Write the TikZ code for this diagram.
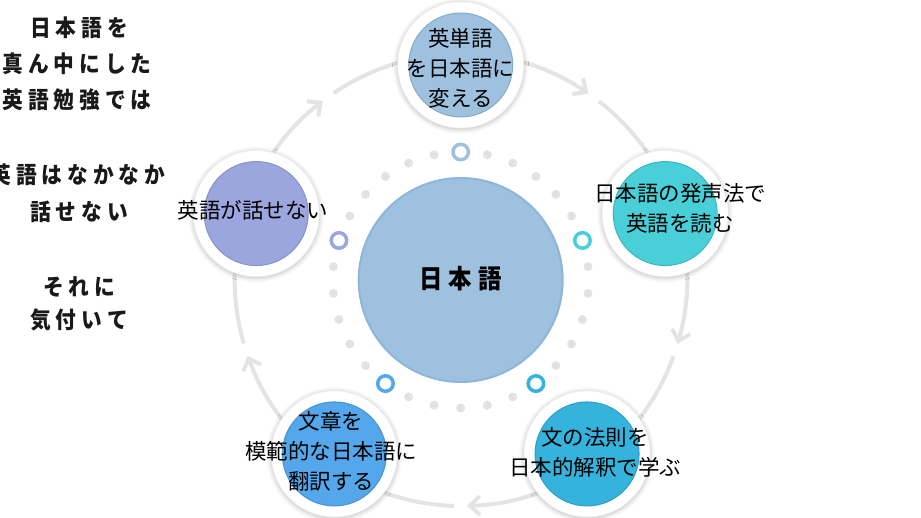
\documentclass[tikz,border=0pt]{standalone}
\usepackage{fontspec}
\usepackage{graphicx}
\setmainfont{Noto Sans CJK JP}
\usetikzlibrary{arrows.meta,shadows.blur}
\definecolor{ringgray}{HTML}{E4E4E4}
\definecolor{dotgray}{HTML}{E2E2E2}
\definecolor{cmain}{HTML}{9DC1DF}
\definecolor{cmainb}{HTML}{8EB6D8}
\definecolor{ctop}{HTML}{9DC1DF}
\definecolor{cright}{HTML}{48CFD7}
\definecolor{cbr}{HTML}{35B3DC}
\definecolor{cbl}{HTML}{53A7EA}
\definecolor{cleft}{HTML}{9CA6DE}
\newcommand\gp{\hspace{5.5pt}}
\newcommand\cgp{\hspace{7pt}}
\begin{document}
\begin{tikzpicture}[x=1pt,y=1pt,
  arcline/.style={draw=ringgray,line width=4pt,-{Straight Barb[length=10pt,width=19pt]}},
  dotc/.style={circle,fill=dotgray,inner sep=0pt,minimum size=9pt},
  marker/.style={circle,draw=#1,line width=3.5pt,fill=white,inner sep=0pt,minimum size=15.5pt},
  outerc/.style={circle,fill=white,draw=black!6,line width=0.6pt,minimum size=126pt,inner sep=0pt,
    blur shadow={shadow xshift=0pt,shadow yshift=-1pt,shadow blur radius=5pt,shadow opacity=30}},
  innerc/.style={circle,fill=#1,draw=#1!88!black,line width=1pt,minimum size=104pt,inner sep=0pt},
  ctext/.style={align=center,font=\fontsize{21.5}{30}\selectfont,text=black},
  ltext/.style={font=\fontsize{23}{26}\selectfont\bfseries,text=black!90,inner sep=0pt}
]
\path[use as bounding box] (0,0) rectangle (921,-518);
\coordinate (c) at (460.7,-280);
% cycle arcs
\foreach \s/\e in {124.3/55.6, 52.3/-16.4, -19.7/-88.4, -91.7/-160.4, -163.7/-232.4} {
  \draw[arcline] ([shift={(\s:226pt)}]c) arc[start angle=\s, end angle=\e, radius=226pt];
}
% dot ring
\foreach \i in {1,...,29} {
  \pgfmathtruncatemacro\m{mod(\i,6)}
  \ifnum\m=0\relax\else
    \node[dotc] (d\i) at ([shift={({90+12*\i}:128pt)}]c) {};
  \fi
}
\node[marker=ctop]   (m1) at ([shift={(90:128pt)}]c) {};
\node[marker=cright] (m2) at ([shift={(18:128pt)}]c) {};
\node[marker=cbr]    (m3) at ([shift={(-54:128pt)}]c) {};
\node[marker=cbl]    (m4) at ([shift={(-126:128pt)}]c) {};
\node[marker=cleft]  (m5) at ([shift={(162:128pt)}]c) {};
% core
\node[circle,fill=cmain,draw=cmainb,line width=2pt,minimum size=204pt,inner sep=0pt] (core) at (c) {};
\node[font=\fontsize{26}{30}\selectfont\bfseries,inner sep=0pt] (coretext) at (460.7,-278.5)
  {\scalebox{0.9}[1]{日\cgp 本\cgp 語}};
% outer circles
\foreach \n/\a/\col in {o1/90/ctop, o2/18/cright, o3/-54/cbr, o4/-126/cbl, o5/162/cleft} {
  \node[outerc] (\n) at ([shift={(\a:215pt)}]c) {};
  \node[innerc=\col] (\n i) at ([shift={(\a:215pt)}]c) {};
}
% circle texts
\node[ctext] (x1) at (460.7,-68) {英単語\\を日本語に\\変える};
\node[ctext] (x2) at (680,-208) {日本語の発声法で\\英語を読む};
\node[ctext] (x3) at (595,-452) {文の法則を\\日本的解釈で学ぶ};
\node[ctext] (x4) at (331,-451) {文章を\\模範的な日本語に\\翻訳する};
\node[ctext] (x5) at (253,-210) {英語が話せない};
% left texts
\node[ltext] (t1) at (79,-28) {\scalebox{0.9}[1]{日\gp 本\gp 語\gp を}};
\node[ltext] (t2) at (77,-64) {\scalebox{0.9}[1]{真\gp ん\gp 中\gp に\gp し\gp た}};
\node[ltext] (t3) at (77,-100) {\scalebox{0.9}[1]{英\gp 語\gp 勉\gp 強\gp で\gp は}};
\node[ltext] (t4) at (78,-175) {\scalebox{0.9}[1]{英\gp 語\gp は\gp な\gp か\gp な\gp か}};
\node[ltext] (t5) at (79,-212) {\scalebox{0.9}[1]{話\gp せ\gp な\gp い}};
\node[ltext] (t6) at (79,-287) {\scalebox{0.9}[1]{そ\gp れ\gp に}};
\node[ltext] (t7) at (79,-320) {\scalebox{0.9}[1]{気\gp 付\gp い\gp て}};
\end{tikzpicture}
\end{document}
